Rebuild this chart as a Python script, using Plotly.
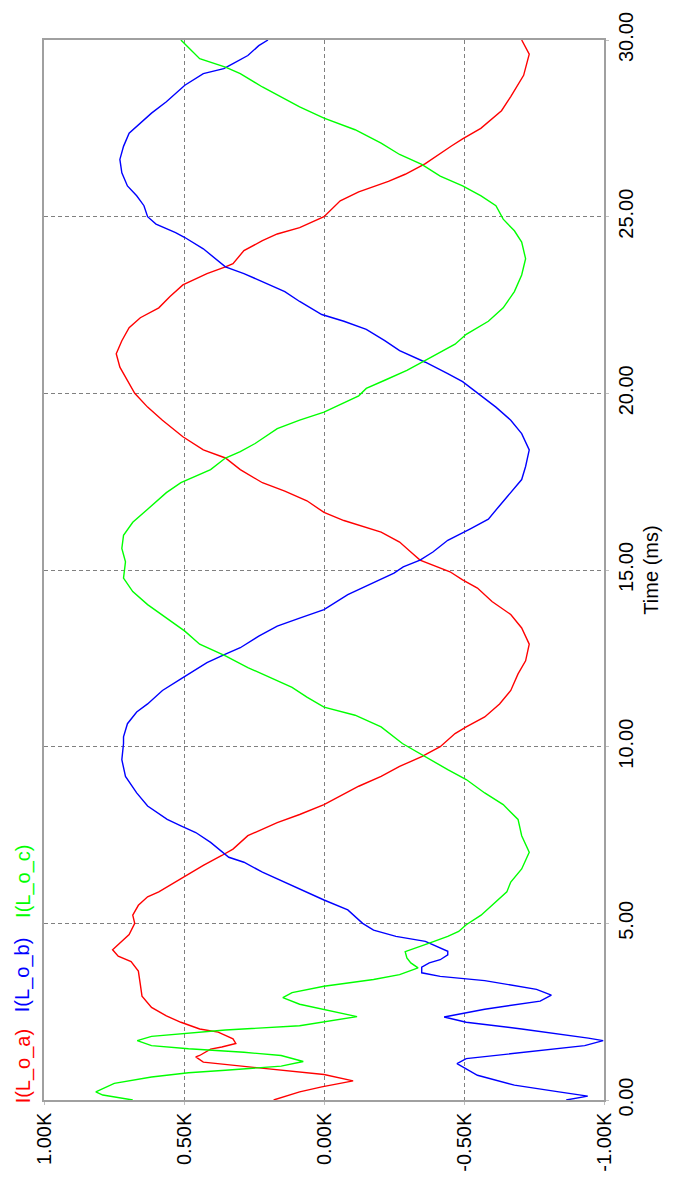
import plotly.graph_objects as go

# Output inductor currents of the three phases, in kA, against time in ms
t_a = [0.00, 0.23, 0.37, 0.54, 0.72, 0.93, 1.07, 1.22, 1.26, 1.44, 1.50, 1.60, 1.73, 1.92,
       2.01, 2.20, 2.38, 2.62, 2.94, 3.27, 3.65, 3.92, 4.07, 4.25, 4.40, 4.68, 5.00, 5.23,
       5.51, 5.75, 5.89, 6.26, 6.64, 6.92, 7.10, 7.48, 7.85, 8.08, 8.36, 8.88, 9.16, 9.44,
       9.72, 10.00, 10.37, 10.56, 10.84, 11.21, 11.59, 12.06, 12.43, 12.90, 13.36, 13.74,
       14.11, 14.49, 14.72, 14.95, 15.28, 15.51, 15.79, 16.07, 16.40, 16.63, 16.96, 17.23,
       17.47, 17.84, 18.17, 18.40, 18.77, 19.24, 19.61, 20.00, 20.28, 20.74, 21.12, 21.49,
       21.86, 22.14, 22.42, 22.74, 23.07, 23.39, 23.58, 23.67, 24.04, 24.32, 24.51, 24.69,
       25.00, 25.45, 25.70, 26.00, 26.20, 26.50, 27.00, 27.20, 27.50, 28.00, 28.40, 29.00,
       29.60, 30.00]
i_a = [0.180, 0.087, 0.008, -0.104, 0.000, 0.272, 0.431, 0.458, 0.444, 0.405, 0.365, 0.315,
       0.325, 0.378, 0.444, 0.511, 0.563, 0.616, 0.650, 0.656, 0.663, 0.689, 0.735, 0.755,
       0.735, 0.696, 0.676, 0.683, 0.663, 0.630, 0.590, 0.511, 0.431, 0.365, 0.325, 0.272,
       0.167, 0.087, 0.000, -0.124, -0.204, -0.270, -0.349, -0.415, -0.468, -0.508, -0.574,
       -0.627, -0.667, -0.693, -0.720, -0.733, -0.706, -0.667, -0.600, -0.548, -0.495,
       -0.450, -0.343, -0.310, -0.270, -0.204, -0.071, 0.000, 0.061, 0.140, 0.220, 0.299,
       0.352, 0.431, 0.504, 0.577, 0.630, 0.676, 0.696, 0.729, 0.742, 0.722, 0.696, 0.656,
       0.590, 0.550, 0.504, 0.418, 0.352, 0.325, 0.286, 0.220, 0.167, 0.087, 0.000, -0.058,
       -0.124, -0.230, -0.290, -0.362, -0.455, -0.495, -0.560, -0.634, -0.667, -0.713,
       -0.733, -0.706]

t_b = [0.00, 0.11, 0.23, 0.42, 0.70, 0.94, 1.03, 1.17, 1.35, 1.54, 1.68, 1.75, 2.01, 2.20,
       2.35, 2.57, 2.80, 2.97, 3.13, 3.38, 3.50, 3.60, 3.76, 3.88, 3.97, 4.11, 4.21, 4.35,
       4.49, 4.63, 4.81, 5.00, 5.38, 5.66, 5.89, 6.17, 6.45, 6.73, 6.87, 7.29, 7.57, 7.76,
       7.94, 8.32, 8.69, 9.16, 9.63, 10.09, 10.28, 10.65, 10.98, 11.21, 11.59, 11.92, 12.38,
       12.62, 12.80, 13.13, 13.41, 13.64, 13.88, 14.30, 14.63, 14.91, 15.09, 15.28, 15.51,
       15.84, 16.16, 16.44, 16.82, 17.19, 17.56, 17.93, 18.40, 18.86, 19.24, 19.61, 19.93,
       20.33, 20.56, 20.88, 21.21, 21.49, 21.81, 22.04, 22.23, 22.60, 22.88, 23.16, 23.39,
       23.58, 24.09, 24.41, 24.55, 24.79, 25.00, 25.31, 25.59, 25.87, 26.24, 26.62, 26.99,
       27.36, 27.64, 27.93, 28.25, 28.53, 28.72, 29.05, 29.19, 29.33, 29.56, 29.84, 30.00]
i_b = [-0.865, -0.942, -0.839, -0.680, -0.548, -0.495, -0.475, -0.508, -0.706, -0.931,
       -0.997, -0.944, -0.706, -0.508, -0.429, -0.574, -0.772, -0.812, -0.759, -0.574,
       -0.415, -0.349, -0.349, -0.376, -0.415, -0.442, -0.442, -0.402, -0.362, -0.257,
       -0.177, -0.138, -0.085, 0.000, 0.065, 0.140, 0.220, 0.286, 0.340, 0.405, 0.458,
       0.511, 0.560, 0.630, 0.669, 0.709, 0.722, 0.716, 0.716, 0.702, 0.669, 0.630, 0.577,
       0.511, 0.418, 0.352, 0.299, 0.233, 0.167, 0.087, 0.000, -0.085, -0.177, -0.250,
       -0.283, -0.343, -0.389, -0.442, -0.521, -0.587, -0.627, -0.667, -0.706, -0.720,
       -0.733, -0.706, -0.667, -0.614, -0.561, -0.495, -0.442, -0.362, -0.270, -0.217,
       -0.151, -0.071, 0.008, 0.087, 0.140, 0.220, 0.286, 0.352, 0.431, 0.497, 0.530,
       0.600, 0.630, 0.643, 0.669, 0.702, 0.722, 0.729, 0.716, 0.696, 0.656, 0.616, 0.563,
       0.524, 0.497, 0.431, 0.358, 0.325, 0.272, 0.233, 0.200]

t_c = [0.00, 0.14, 0.23, 0.47, 0.65, 0.77, 0.84, 0.96, 1.09, 1.26, 1.35, 1.45, 1.54, 1.68,
       1.80, 1.90, 1.98, 2.10, 2.36, 2.71, 2.90, 3.04, 3.22, 3.41, 3.55, 3.74, 3.88, 4.02,
       4.20, 4.44, 4.63, 4.77, 4.96, 5.23, 5.61, 5.89, 6.17, 6.54, 7.01, 7.48, 7.94, 8.36,
       8.69, 9.07, 9.35, 9.77, 10.09, 10.56, 10.89, 11.12, 11.40, 11.68, 11.96, 12.24, 12.57,
       12.90, 13.27, 13.64, 14.02, 14.39, 14.77, 15.23, 15.61, 15.98, 16.35, 16.72, 17.19,
       17.47, 17.65, 17.84, 18.17, 18.35, 18.58, 19.00, 19.24, 19.47, 19.93, 20.14, 20.37,
       20.65, 20.93, 21.39, 21.67, 22.04, 22.42, 22.88, 23.35, 23.81, 24.28, 24.60, 24.93,
       25.31, 25.59, 25.87, 26.15, 26.48, 26.76, 27.08, 27.46, 27.79, 28.11, 28.39, 28.67,
       29.05, 29.23, 29.47, 29.79, 30.00]
i_c = [0.683, 0.790, 0.815, 0.749, 0.616, 0.484, 0.352, 0.153, 0.074, 0.153, 0.286, 0.484,
       0.616, 0.667, 0.616, 0.484, 0.352, 0.087, -0.118, 0.087, 0.147, 0.114, 0.000,
       -0.177, -0.270, -0.336, -0.310, -0.296, -0.290, -0.376, -0.442, -0.481, -0.508,
       -0.561, -0.614, -0.653, -0.667, -0.706, -0.733, -0.706, -0.693, -0.640, -0.574,
       -0.508, -0.442, -0.349, -0.280, -0.204, -0.111, 0.000, 0.061, 0.114, 0.193, 0.272,
       0.352, 0.444, 0.497, 0.563, 0.630, 0.683, 0.716, 0.709, 0.722, 0.716, 0.683, 0.630,
       0.563, 0.511, 0.458, 0.405, 0.352, 0.299, 0.246, 0.167, 0.087, 0.000, -0.124,
       -0.151, -0.217, -0.296, -0.362, -0.468, -0.508, -0.587, -0.640, -0.680, -0.706,
       -0.720, -0.706, -0.680, -0.640, -0.614, -0.561, -0.495, -0.415, -0.349, -0.270,
       -0.204, -0.111, 0.000, 0.087, 0.153, 0.220, 0.299, 0.352, 0.444, 0.484, 0.511]

series_names = ["I(L_o_a)", "I(L_o_b)", "I(L_o_c)"]
series_colors = ["#ff0000", "#0000ff", "#00ff00"]

current_ticks = [1.0, 0.5, 0.0, -0.5, -1.0]
current_labels = ["1.00K", "0.50K", "0.00K", "-0.50K", "-1.00K"]
time_ticks = [0, 5, 10, 15, 20, 25, 30]
time_labels = ["0.00", "5.00", "10.00", "15.00", "20.00", "25.00", "30.00"]

FONT = "Arial, 'Liberation Sans', sans-serif"
FS = 20

fig = go.Figure()
for t, i, name, color in zip([t_a, t_b, t_c], [i_a, i_b, i_c], series_names, series_colors):
    # time runs up the page, current runs right-to-left
    fig.add_trace(go.Scatter(x=i, y=t, mode="lines", name=name,
                             line=dict(color=color, width=1.4), showlegend=False))

# rotated series labels along the left edge
legend_y = [0.032, 0.118, 0.206]
for name, color, yy in zip(series_names, series_colors, legend_y):
    fig.add_annotation(text=name, xref="paper", yref="paper", x=-0.037, y=yy,
                       xanchor="center", yanchor="middle", textangle=-90, showarrow=False,
                       font=dict(family=FONT, size=FS, color=color))

axis_common = dict(tickangle=-90, showgrid=True, gridcolor="#808080", griddash="4px,3px",
                   gridwidth=1, zeroline=False, showline=True, mirror=True,
                   linecolor="#a0a0a0", linewidth=1.5, ticks="outside", ticklen=3,
                   tickcolor="#c0c0c0", tickfont=dict(family=FONT, size=FS))

fig.update_layout(
    width=675, height=1186,
    margin=dict(l=44, r=71, t=30, b=86),
    paper_bgcolor="white", plot_bgcolor="white",
    font=dict(family=FONT, size=FS, color="black"),
    xaxis=dict(range=[1.0, -1.0], tickvals=current_ticks, ticktext=current_labels,
               **axis_common),
    yaxis=dict(range=[0, 30], tickvals=time_ticks, ticktext=time_labels, side="right",
               title=dict(text="Time (ms)", font=dict(family=FONT, size=FS), standoff=8),
               **axis_common),
)

fig.write_html("out.html")
